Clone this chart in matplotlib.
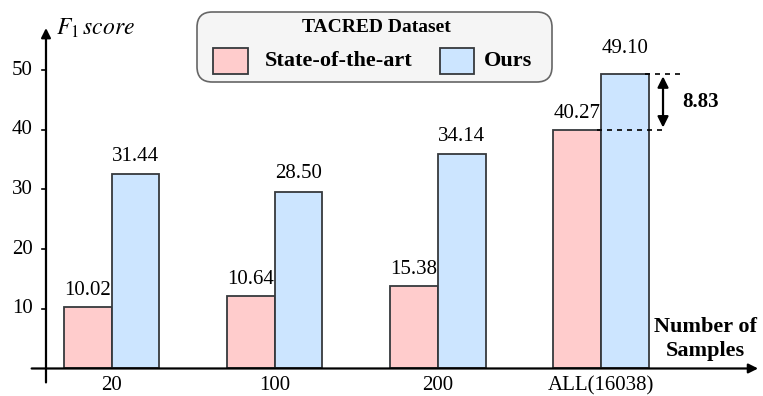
import matplotlib
matplotlib.use("Agg")
import matplotlib.pyplot as plt
from matplotlib.patches import FancyBboxPatch, Rectangle

plt.rcParams['font.family'] = ['Liberation Serif', 'DejaVu Serif']
plt.rcParams['mathtext.fontset'] = 'stix'

categories = ["20", "100", "200", "ALL(16038)"]
sota_values = [10.35, 12.1, 13.8, 39.9]
ours_values = [32.6, 29.6, 35.9, 49.4]
sota_labels = ["10.02", "10.64", "15.38", "40.27"]
ours_labels = ["31.44", "28.50", "34.14", "49.10"]
yticks = [10, 20, 30, 40, 50]
gap_label = "8.83"

PINK = "#ffcccc"
BLUE = "#cce5ff"
EDGE = "#36393d"

fig = plt.figure(figsize=(7.63, 3.96), dpi=100)
ax = fig.add_axes([0, 0, 1, 1])
ax.set_xlim(-0.685, 3.993)
ax.set_ylim(-4.61, 61.73)
ax.axis('off')

x = list(range(len(categories)))
w = 0.292
xs_p = [i - w / 2 for i in x]
xs_b = [i + w / 2 for i in x]
ax.bar(xs_p, sota_values, width=w, color=PINK, edgecolor=EDGE, linewidth=1.3, zorder=3)
ax.bar(xs_b, ours_values, width=w, color=BLUE, edgecolor=EDGE, linewidth=1.3, zorder=3)

fs = 15
for xi, v, lab in zip(xs_p, sota_values, sota_labels):
    ax.annotate(lab, (xi, v), xytext=(0, 5), textcoords='offset points',
                ha='center', va='bottom', fontsize=fs)
for xi, v, lab in zip(xs_b, ours_values, ours_labels):
    off = 11 if v > 45 else 6
    ax.annotate(lab, (xi, v), xytext=(0, off), textcoords='offset points',
                ha='center', va='bottom', fontsize=fs)

# axes
ax.annotate('', xy=(-0.403, 57.5), xytext=(-0.403, -2.8),
            arrowprops=dict(arrowstyle='-|>', color='black', lw=1.6,
                            mutation_scale=14), zorder=5)
ax.annotate('', xy=(3.98, 0), xytext=(-0.508, 0),
            arrowprops=dict(arrowstyle='-|>', color='black', lw=1.6,
                            mutation_scale=14), zorder=5)
for t in yticks:
    ax.plot([-0.43, -0.403], [t, t], color='black', lw=1.2)
    ax.text(-0.483, t, str(t), ha='right', va='center', fontsize=fs)
for xi, c in zip(x, categories):
    ax.text(xi, -2.9, c, ha='center', va='center', fontsize=fs)

ax.text(-0.34, 57.0, r'$F_1\, score$', ha='left', va='center', fontsize=17)
ax.text(3.64, 4.9, "Number of\nSamples", ha='center', va='center',
        fontsize=16, fontweight='bold', linespacing=1.3)

# difference annotation
top = ours_values[3]
bot = sota_values[3]
ax.plot([3.27, 3.485], [top, top], ls=(0, (3, 3)), color='black', lw=1.2, zorder=4)
ax.plot([2.976, 3.38], [bot, bot], ls=(0, (3, 3)), color='black', lw=1.2, zorder=4)
ax.annotate('', xy=(3.38, top), xytext=(3.38, bot),
            arrowprops=dict(arrowstyle='<|-|>', color='black', lw=1.6,
                            mutation_scale=16), zorder=5)
ax.text(3.50, (top + bot) / 2, gap_label, ha='left', va='center',
        fontsize=15, fontweight='bold')

# legend box (figure pixel coordinates)
def px(xp, yp):
    return xp / 763, 1 - yp / 396

x0, y1 = px(197, 12)
x1, y0 = px(552, 82)
box = FancyBboxPatch((x0, y0), x1 - x0, y1 - y0,
                     boxstyle="round,pad=0,rounding_size=0.02",
                     transform=fig.transFigure, facecolor="#f5f5f5",
                     edgecolor="#666666", lw=1.2, mutation_aspect=763/396)
fig.patches.append(box)
tx, ty = px(376, 27)
fig.text(tx, ty, "TACRED Dataset", ha='center', va='center', fontsize=14, fontweight='bold')
for (a, b), col, lab, tx_p in [((213, 248), PINK, "State-of-the-art", 265),
                               ((440, 474), BLUE, "Ours", 484)]:
    rx0, ry0 = px(a, 74)
    rx1, ry1 = px(b, 48)
    fig.patches.append(Rectangle((rx0, ry0), rx1 - rx0, ry1 - ry0,
                                 transform=fig.transFigure, facecolor=col,
                                 edgecolor=EDGE, lw=1.3))
    lx, ly = px(tx_p, 61)
    fig.text(lx, ly, lab, ha='left', va='center', fontsize=16, fontweight='bold')

fig.savefig("out.png", dpi=100)
